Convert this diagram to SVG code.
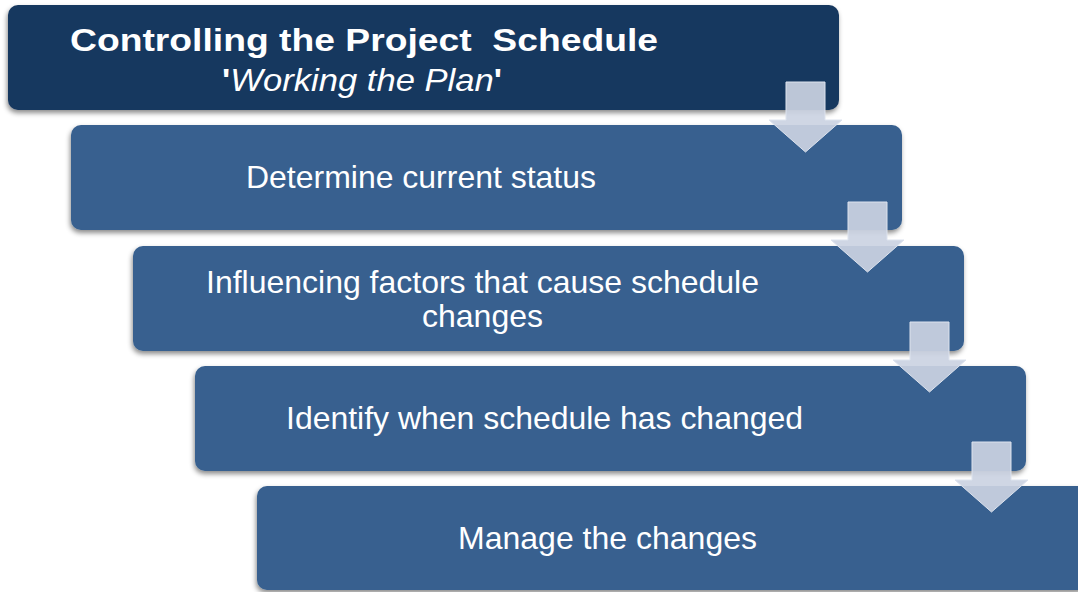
<svg xmlns="http://www.w3.org/2000/svg" width="1078" height="592" viewBox="0 0 1078 592">
<defs>
<filter id="sh" x="-5%" y="-20%" width="110%" height="150%">
<feDropShadow dx="-1" dy="3" stdDeviation="2.5" flood-color="#000" flood-opacity="0.45"/>
</filter>
<style>
.box{fill:#37608f;filter:url(#sh)}
.top{fill:#17375e;filter:url(#sh)}
.t{font-family:"Liberation Sans",Arial,sans-serif;fill:#fff;font-size:32px}
.arr{fill:#cbd3e2;fill-opacity:0.92;stroke:#dde3ee;stroke-width:1}
</style>
</defs>
<rect width="1078" height="592" fill="#fff"/>
<g id="node1">
<rect class="top" x="8" y="5" width="831" height="105" rx="10"/>
<text class="t" x="70" y="51" font-size="36.5" font-weight="bold" textLength="588" lengthAdjust="spacingAndGlyphs" xml:space="preserve">Controlling the Project  Schedule</text>
<text class="t" x="222" y="91" font-size="33" textLength="280" lengthAdjust="spacingAndGlyphs"><tspan font-weight="bold">'</tspan><tspan font-style="italic">Working the Plan</tspan><tspan font-weight="bold">'</tspan></text>
</g>
<g id="node2">
<rect class="box" x="71" y="125" width="831" height="105" rx="10"/>
<text class="t" x="246" y="188" textLength="350" lengthAdjust="spacingAndGlyphs">Determine current status</text>
</g>
<g id="node3">
<rect class="box" x="133" y="246" width="831" height="105" rx="10"/>
<text class="t" x="206" y="293" textLength="553" lengthAdjust="spacingAndGlyphs">Influencing factors that cause schedule</text>
<text class="t" x="422" y="327" textLength="121" lengthAdjust="spacingAndGlyphs">changes</text>
</g>
<g id="node4">
<rect class="box" x="195" y="366" width="831" height="105" rx="10"/>
<text class="t" x="286" y="429" textLength="517" lengthAdjust="spacingAndGlyphs">Identify when schedule has changed</text>
</g>
<g id="node5">
<rect class="box" x="257" y="486" width="831" height="104" rx="10"/>
<text class="t" x="458" y="549" textLength="299" lengthAdjust="spacingAndGlyphs">Manage the changes</text>
</g>
<g id="connectors">
<polygon class="arr" points="786,82 825,82 825,120 842,120 805.5,152 769,120 786,120"/>
<polygon class="arr" points="848,202 887,202 887,240 904,240 867.5,272 831,240 848,240"/>
<polygon class="arr" points="910,322 949,322 949,360 966,360 929.5,392 893,360 910,360"/>
<polygon class="arr" points="972,442 1011,442 1011,480 1028,480 991.5,512 955,480 972,480"/>
</g>
</svg>
